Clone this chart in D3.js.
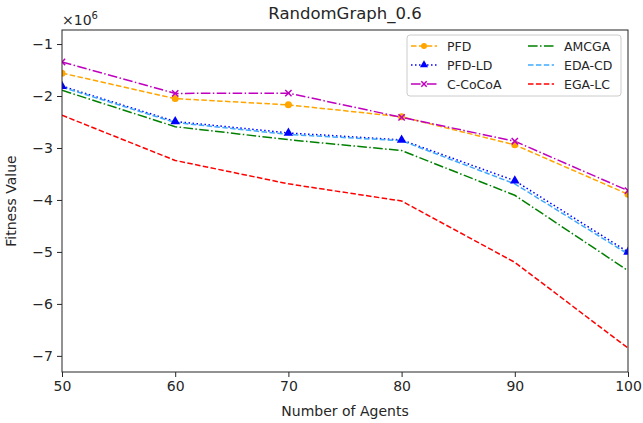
<!DOCTYPE html>
<html lang="en">
<head>
<meta charset="UTF-8">
<title>RandomGraph_0.6</title>
<script src="https://cdn.jsdelivr.net/npm/d3@7"></script>
<style>
    body { margin: 0; background: #fff; }
    svg { font-family: "DejaVu Sans", sans-serif; }
</style>
</head>
<body>
<div id="chart"></div>
<script>
    // data, in units of 1e6
    const agents = [50, 60, 70, 80, 90, 100];
    const pfd    = [-1.56, -2.05, -2.17, -2.40, -2.94, -3.89];
    const pfdLd  = [-1.81, -2.49, -2.71, -2.845, -3.63, -5.00];
    const cCocoa = [-1.345, -1.95, -1.945, -2.41, -2.87, -3.82];
    const amcga  = [-1.89, -2.59, -2.84, -3.05, -3.91, -5.36];
    const edaCd  = [-1.83, -2.51, -2.74, -2.86, -3.69, -5.04];
    const egaLc  = [-2.37, -3.24, -3.69, -4.02, -5.20, -6.85];
    const yTicks = [-1, -2, -3, -4, -5, -6, -7];

    const series = [
        {name: "PFD", values: pfd, color: "#FFA500", dash: "5.5,2.4", marker: "circle"},
        {name: "PFD-LD", values: pfdLd, color: "#0000FF", dash: "1.5,2.5", marker: "triangle"},
        {name: "C-CoCoA", values: cCocoa, color: "#BF00BF", dash: "9.6,2.4,1.5,2.4", marker: "x"},
        {name: "AMCGA", values: amcga, color: "#008000", dash: "9.6,2.4,1.5,2.4", marker: null},
        {name: "EDA-CD", values: edaCd, color: "#3FAAFF", dash: "5.5,2.4", marker: null},
        {name: "EGA-LC", values: egaLc, color: "#FF0000", dash: "5.5,2.4", marker: null}
    ];

    const width = 643, height = 423;
    const margin = {top: 30, right: 15, bottom: 51, left: 62};
    const w = width - margin.left - margin.right;
    const h = height - margin.top - margin.bottom;

    const svg = d3.select("#chart").append("svg")
        .attr("width", width).attr("height", height);
    const g = svg.append("g").attr("transform", `translate(${margin.left},${margin.top})`);

    const x = d3.scaleLinear().domain([50, 100]).range([0, w]);
    const y = d3.scaleLinear().domain([-7.31, -0.73]).range([h, 0]);

    // axes
    const xAxis = g.append("g").attr("transform", `translate(0,${h})`)
        .call(d3.axisBottom(x).tickValues(agents).tickFormat(d3.format("d")).tickSizeOuter(0).tickSize(5).tickPadding(4));
    const yAxis = g.append("g")
        .call(d3.axisLeft(y).tickValues(yTicks).tickFormat(d => "\u2212" + Math.abs(d)).tickSizeOuter(0).tickSize(5).tickPadding(4));
    [xAxis, yAxis].forEach(a => {
        a.select(".domain").remove();
        a.selectAll("line").attr("stroke", "#262626").attr("stroke-width", 1);
        a.selectAll("text").attr("font-size", 14).attr("fill", "#262626")
            .attr("font-family", "DejaVu Sans, sans-serif");
    });

    // lines and markers, clipped to the axes like matplotlib does
    g.append("clipPath").attr("id", "clip").append("rect")
        .attr("width", w).attr("height", h);
    const plot = g.append("g").attr("clip-path", "url(#clip)");
    const line = d3.line().x((d, i) => x(agents[i])).y(d => y(d));

    series.forEach(s => {
        plot.append("path").datum(s.values)
            .attr("d", line)
            .attr("fill", "none")
            .attr("stroke", s.color)
            .attr("stroke-width", 1.5)
            .attr("stroke-dasharray", s.dash);
    });

    function drawMarker(sel, type, cx, cy, color, size) {
        if (type === "circle") {
            sel.append("circle").attr("cx", cx).attr("cy", cy).attr("r", size)
                .attr("fill", color);
        } else if (type === "triangle") {
            sel.append("path").attr("d", d3.symbol(d3.symbolTriangle, size * size * 3.2)())
                .attr("transform", `translate(${cx},${cy})`).attr("fill", color);
        } else if (type === "x") {
            const r = size * 0.9;
            sel.append("path")
                .attr("d", `M${cx - r},${cy - r}L${cx + r},${cy + r}M${cx - r},${cy + r}L${cx + r},${cy - r}`)
                .attr("stroke", color).attr("stroke-width", 1.5);
        }
    }

    series.filter(s => s.marker).forEach(s => {
        s.values.forEach((v, i) => drawMarker(plot, s.marker, x(agents[i]), y(v), s.color, 3.5));
    });

    // frame
    g.append("rect").attr("width", w).attr("height", h)
        .attr("fill", "none").attr("stroke", "#262626").attr("stroke-width", 1);

    // labels
    svg.append("text").attr("x", margin.left + w / 2).attr("y", 19)
        .attr("text-anchor", "middle").attr("font-size", 16.5).attr("fill", "#262626")
        .text("RandomGraph_0.6");
    const sci = svg.append("text").attr("x", margin.left).attr("y", 25)
        .attr("font-size", 14).attr("fill", "#262626");
    sci.append("tspan").text("\u00d710");
    sci.append("tspan").attr("dy", -6).attr("font-size", 10).text("6");
    svg.append("text").attr("x", margin.left + w / 2).attr("y", height - 7)
        .attr("text-anchor", "middle").attr("font-size", 14).attr("fill", "#262626")
        .text("Number of Agents");
    svg.append("text")
        .attr("transform", `translate(16,${margin.top + h / 2}) rotate(-90)`)
        .attr("text-anchor", "middle").attr("font-size", 14).attr("fill", "#262626")
        .text("Fitness Value");

    // legend
    const leg = svg.append("g").attr("transform", "translate(407,35)");
    leg.append("rect").attr("width", 214).attr("height", 61).attr("rx", 3)
        .attr("fill", "white").attr("fill-opacity", 0.8)
        .attr("stroke", "#cccccc").attr("stroke-width", 1);
    series.forEach((s, i) => {
        const col = Math.floor(i / 3), row = i % 3;
        const lx = 4 + col * 117, ly = 11 + row * 19;
        leg.append("line").attr("x1", lx).attr("x2", lx + 26).attr("y1", ly).attr("y2", ly)
            .attr("stroke", s.color).attr("stroke-width", 1.5).attr("stroke-dasharray", s.dash);
        if (s.marker) drawMarker(leg, s.marker, lx + 13, ly, s.color, 3);
        leg.append("text").attr("x", lx + 36).attr("y", ly + 4.5)
            .attr("font-size", 12.5).attr("fill", "#262626").text(s.name);
    });
</script>
</body>
</html>
